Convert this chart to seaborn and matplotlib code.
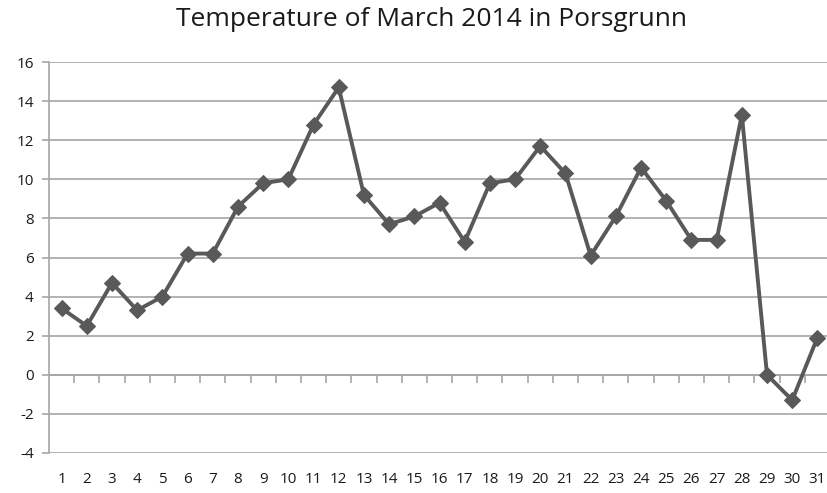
import numpy as np
import pandas as pd
import seaborn as sns
import matplotlib.pyplot as plt

days = list(range(1, 32))
temps = [3.4, 2.5, 4.7, 3.3, 4.0, 6.2, 6.2, 8.6, 9.8, 10.0,
         12.8, 14.7, 9.2, 7.7, 8.1, 8.8, 6.8, 9.8, 10.0, 11.7,
         10.3, 6.1, 8.1, 10.6, 8.9, 6.9, 6.9, 13.3, 0.0, -1.3, 1.9]
y_ticks = list(range(-4, 17, 2))
title = "Temperature of March 2014 in Porsgrunn"


def main():
    df = pd.DataFrame({"day": days, "temp": temps})

    sns.set_style("white")
    plt.rcParams["font.family"] = ["Open Sans", "DejaVu Sans"]
    plt.rcParams["axes.unicode_minus"] = False

    fig = plt.figure(figsize=(8.27, 4.93), dpi=100)
    ax = fig.add_axes([49 / 827, 1 - 453 / 493, (830 - 49) / 827, (453 - 62) / 493])

    grid_col = "#a6a6a6"
    sns.lineplot(data=df, x="day", y="temp", ax=ax, color="#595959",
                 linewidth=2.8, marker="D", markersize=8,
                 markeredgecolor="#595959", zorder=3)

    ax.set_xlim(0.5, 31.5)
    ax.set_ylim(-4, 16)
    ax.set_yticks(y_ticks)
    ax.yaxis.grid(True, color=grid_col, linewidth=1.2)
    ax.set_xlabel("")
    ax.set_ylabel("")

    for s in ["top", "right", "bottom"]:
        ax.spines[s].set_visible(False)
    ax.spines["left"].set_color(grid_col)
    ax.spines["left"].set_linewidth(1.2)

    ax.tick_params(axis="y", left=True, length=5, width=1.2, color=grid_col,
                   labelsize=11, labelcolor="#1a1a1a", pad=6)
    ax.set_xticks(days)
    ax.set_xticklabels([str(d) for d in days])
    ax.tick_params(axis="x", bottom=True, length=0, labelsize=11,
                   labelcolor="#1a1a1a", pad=14)

    # category axis crossing at zero, ticks between categories
    sec = ax.secondary_xaxis(4 / 20)
    sec.set_xticks([d + 0.5 for d in days[:-1]])
    sec.set_xticklabels([])
    sec.tick_params(axis="x", length=6, width=1.2, color=grid_col)
    sec.spines["bottom"].set_color(grid_col)
    sec.spines["bottom"].set_linewidth(1.2)

    fig.suptitle(title, x=431 / 827, y=1 - 20 / 493, va="center",
                 fontsize=19, color="#1a1a1a")

    fig.savefig("out.png", dpi=100)


if __name__ == "__main__":
    main()
